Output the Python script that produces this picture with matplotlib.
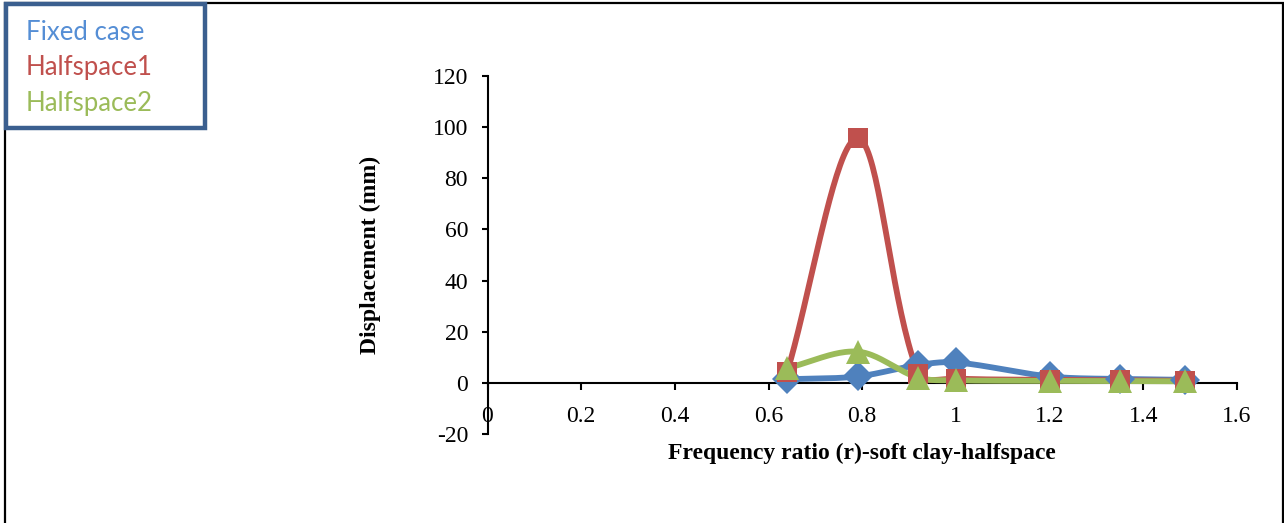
import numpy as np
import matplotlib
matplotlib.use("Agg")
import matplotlib.pyplot as plt
from matplotlib.patches import Rectangle

# data
freq_ratio = [0.64, 0.79, 0.92, 1.0, 1.2, 1.35, 1.49]
fixed_case = [1.4, 2.5, 7.0, 8.0, 2.5, 1.5, 1.2]
halfspace1 = [4.4, 95.6, 3.5, 1.7, 1.2, 1.0, 0.8]
halfspace2 = [5.8, 12.2, 2.0, 1.0, 0.8, 0.7, 0.6]

series_names = ["Fixed case", "Halfspace1", "Halfspace2"]
line_colors = ["#4F81BD", "#C0504D", "#9BBB59"]
text_colors = ["#558ED5", "#C0504D", "#9BBB59"]
markers = ["D", "s", "^"]

x_ticks = [0, 0.2, 0.4, 0.6, 0.8, 1.0, 1.2, 1.4, 1.6]
x_tick_labels = ["0", "0.2", "0.4", "0.6", "0.8", "1", "1.2", "1.4", "1.6"]
y_ticks = [-20, 0, 20, 40, 60, 80, 100, 120]

W, H = 1284, 523
XSCALE = 468.0   # px per x unit (for smoothing weights)
YSCALE = 2.56    # px per y unit


def _smooth(xs, ys, n=40):
    # excel-like bezier smoothing, tangents weighted by segment lengths
    p = np.column_stack([xs, ys]).astype(float)
    s = np.array([XSCALE, YSCALE])
    m = len(p)
    out = []
    for i in range(m - 1):
        p0 = p[max(i - 1, 0)]
        p1 = p[i]
        p2 = p[i + 1]
        p3 = p[min(i + 2, m - 1)]
        d01 = np.linalg.norm((p1 - p0) * s)
        d12 = np.linalg.norm((p2 - p1) * s)
        d23 = np.linalg.norm((p3 - p2) * s)
        f1 = 2 * d12 / (d01 + d12) if d01 + d12 > 0 else 1
        f2 = 2 * d12 / (d12 + d23) if d12 + d23 > 0 else 1
        c1 = p1 + (p2 - p0) / 6 * f1
        c2 = p2 - (p3 - p1) / 6 * f2
        t = np.linspace(0, 1, n)[:, None]
        seg = ((1 - t) ** 3) * p1 + 3 * ((1 - t) ** 2) * t * c1 \
            + 3 * (1 - t) * t ** 2 * c2 + t ** 3 * p2
        out.append(seg if i == 0 else seg[1:])
    pts = np.vstack(out)
    return pts[:, 0], pts[:, 1]


plt.rcParams["font.family"] = ["Liberation Serif", "DejaVu Serif"]
plt.rcParams["axes.unicode_minus"] = False

fig = plt.figure(figsize=(W / 100, H / 100), dpi=100)
ax = fig.add_axes([487.5 / W, 1 - 434 / H, (1237 - 487.5) / W, (434 - 76) / H])

for ys, c, mk in zip([fixed_case, halfspace1, halfspace2], line_colors, markers):
    sx, sy = _smooth(freq_ratio, ys)
    ax.plot(sx, sy, color=c, lw=4.2, solid_capstyle="round", zorder=3)
    ms = {"D": 15, "s": 14, "^": 17}[mk]
    ax.plot(freq_ratio, ys, linestyle="none", marker=mk, ms=ms,
            color=c, markeredgewidth=0, zorder=4)

ax.set_xlim(0, 1.6)
ax.set_ylim(-20, 120)
ax.set_xticks(x_ticks)
ax.set_xticklabels(x_tick_labels)
ax.set_yticks(y_ticks)

ax.spines["top"].set_visible(False)
ax.spines["right"].set_visible(False)
ax.spines["bottom"].set_position(("data", 0))
ax.spines["bottom"].set_linewidth(1.5)
ax.spines["left"].set_linewidth(1.5)
ax.tick_params(axis="x", direction="out", length=5, width=1.5, pad=12, labelsize=17)
ax.tick_params(axis="y", direction="out", length=4, width=1.5, pad=10, labelsize=17)

fig.text(862 / W, 1 - 453 / H, "Frequency ratio (r)-soft clay-halfspace",
         ha="center", va="center", fontsize=17, fontweight="bold")
fig.text(370 / W, 1 - 255 / H, "Displacement (mm)", rotation=90,
         ha="center", va="center", fontsize=17, fontweight="bold")

# outer chart border
fig.patches.append(Rectangle((5 / W, -0.05), (1283 - 5) / W, 1.05 - 3 / H,
                             transform=fig.transFigure, fill=False,
                             edgecolor="black", lw=1.6))

# legend-like text box
fig.patches.append(Rectangle((6 / W, 1 - 128 / H), (205 - 6) / W, (128 - 4) / H,
                             transform=fig.transFigure, facecolor="white",
                             edgecolor="#3B5F8F", lw=3.2, zorder=5))
for name, c, yy in zip(series_names, text_colors, [32, 68, 103]):
    fig.text(26 / W, 1 - yy / H, name, color=c, ha="left", va="center",
             fontsize=18.5, family=["Lato", "DejaVu Sans"], zorder=6)

fig.savefig("out.png", dpi=100)
